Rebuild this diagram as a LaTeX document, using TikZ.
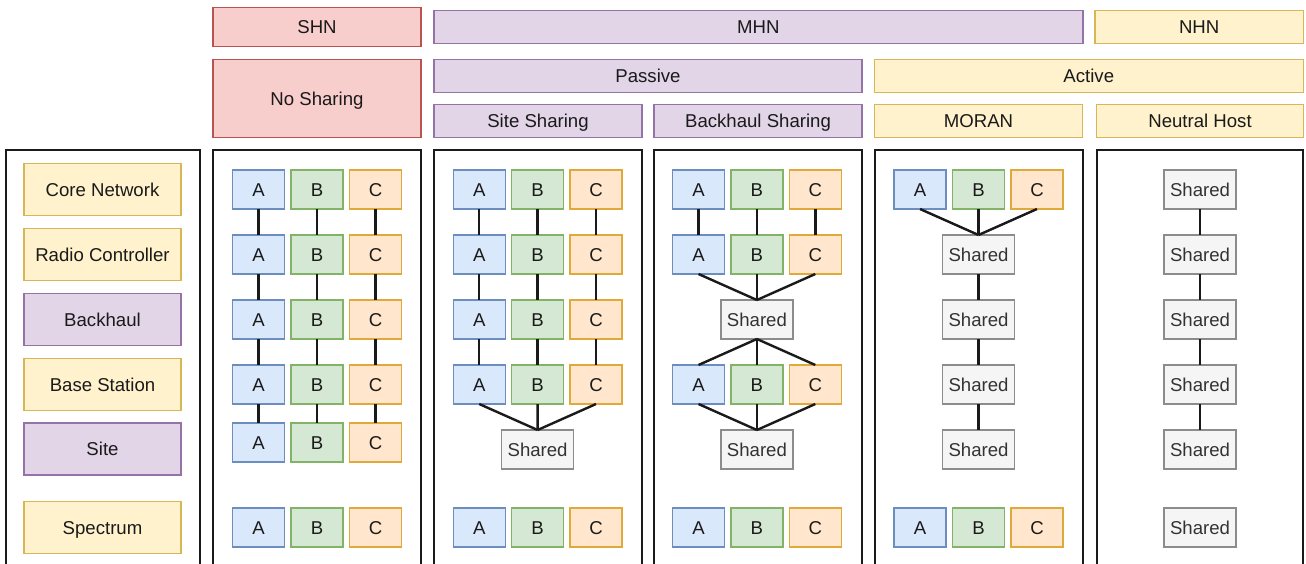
\documentclass[tikz,border=0pt]{standalone}
\usepackage{fontspec}
\setmainfont{Liberation Sans}
\definecolor{blueF}{HTML}{DAE8FC}\definecolor{blueD}{HTML}{6C8EBF}
\definecolor{greenF}{HTML}{D5E8D4}\definecolor{greenD}{HTML}{82B366}
\definecolor{orF}{HTML}{FFE6CC}\definecolor{orD}{HTML}{E0AA3A}
\definecolor{yelF}{HTML}{FFF2CC}\definecolor{yelD}{HTML}{D6B656}
\definecolor{purF}{HTML}{E1D5E7}\definecolor{purD}{HTML}{9673A6}
\definecolor{redF}{HTML}{F8CECC}\definecolor{redD}{HTML}{B85450}
\definecolor{grayF}{HTML}{F5F5F5}\definecolor{grayD}{HTML}{8C8C8C}
\definecolor{grayT}{HTML}{333333}\definecolor{txt}{HTML}{1A1A1A}
\begin{document}
\begin{tikzpicture}[x=1pt,y=-1pt,
  every node/.style={font=\fontsize{18.6}{20}\selectfont, inner sep=0pt, outer sep=0pt,
    text height=15.6pt, text depth=2pt},
  bx/.style={draw, line width=1.4pt, rectangle, text=txt},
  redbox/.style={bx, fill=redF, draw=redD},
  purbox/.style={bx, fill=purF, draw=purD},
  yelbox/.style={bx, fill=yelF, draw=yelD},
  lg/.style={minimum width=157, minimum height=52},
  abox/.style={bx, fill=blueF, draw=blueD, minimum width=52, minimum height=39},
  bbox/.style={bx, fill=greenF, draw=greenD, minimum width=52, minimum height=39},
  cbox/.style={bx, fill=orF, draw=orD, minimum width=52, minimum height=39},
  shbox/.style={bx, fill=grayF, draw=grayD, text=grayT, minimum width=72, minimum height=39},
  link/.style={draw=txt, line width=2.4pt},
  frame/.style={draw=txt, line width=1.3pt}]
\fill[white] (0,0) rectangle (1306,564);
\useasboundingbox (0,0) rectangle (1306,564);

\newcommand\abcrow[4]{% prefix, xA, step, y
  \node[abox] (#1a) at (#2,#4) {A};
  \node[bbox] (#1b) at (#2+#3,#4) {B};
  \node[cbox] (#1c) at (#2+2*#3,#4) {C};}
\newcommand\vlinks[2]{%
  \draw[link] (#1a.south) -- (#2a.north);
  \draw[link] (#1b.south) -- (#2b.north);
  \draw[link] (#1c.south) -- (#2c.north);}
\newcommand\merge[2]{%
  \draw[link] (#1a.south) -- (#2.north);
  \draw[link] (#1b.south) -- (#2.north);
  \draw[link] (#1c.south) -- (#2.north);}
\newcommand\split[2]{%
  \draw[link] (#1.south) -- (#2a.north);
  \draw[link] (#1.south) -- (#2b.north);
  \draw[link] (#1.south) -- (#2c.north);}

% headers
\node[redbox, minimum width=208, minimum height=39] (shn) at (317,27) {SHN};
\node[purbox, minimum width=649, minimum height=33] (mhn) at (758.3,27) {MHN};
\node[yelbox, minimum width=208.5, minimum height=33] (nhn) at (1199.2,27) {NHN};
\node[redbox, minimum width=208, minimum height=78] (nosh) at (317,98.5) {No Sharing};
\node[purbox, minimum width=428, minimum height=33] (pass) at (648,76) {Passive};
\node[yelbox, minimum width=429, minimum height=33] (act) at (1088.8,76) {Active};
\node[purbox, minimum width=208, minimum height=33] (sites) at (538,121.2) {Site Sharing};
\node[purbox, minimum width=208, minimum height=33] (bhs) at (758,121.2) {Backhaul Sharing};
\node[yelbox, minimum width=208, minimum height=33] (moran) at (978.5,121.2) {MORAN};
\node[yelbox, minimum width=207, minimum height=33] (nh) at (1200,121.2) {Neutral Host};

% panel frames (open at the bottom)
\foreach \l/\r in {6/200, 213/421, 434/642, 654/862, 875/1083, 1097/1303}
  \draw[frame] (\l,566) -- (\l,150) -- (\r,150) -- (\r,566);

% legend
\node[yelbox, lg] (core) at (102.5,189.5) {Core Network};
\node[yelbox, lg] (radio) at (102.5,254.5) {Radio Controller};
\node[purbox, lg] (bh) at (102.5,319.5) {Backhaul};
\node[yelbox, lg] (bs) at (102.5,384.5) {Base Station};
\node[purbox, lg] (site) at (102.5,449) {Site};
\node[yelbox, lg] (spec) at (102.5,527.5) {Spectrum};

% panel 1: no sharing
\abcrow{pa1}{258.5}{58.5}{189.5}
\abcrow{pa2}{258.5}{58.5}{254.5}
\abcrow{pa3}{258.5}{58.5}{319.5}
\abcrow{pa4}{258.5}{58.5}{384.5}
\abcrow{pa5}{258.5}{58.5}{442.5}
\abcrow{pas}{258.5}{58.5}{527.5}
\vlinks{pa1}{pa2}\vlinks{pa2}{pa3}\vlinks{pa3}{pa4}\vlinks{pa4}{pa5}

% panel 2: site sharing
\abcrow{pb1}{479.2}{58.4}{189.5}
\abcrow{pb2}{479.2}{58.4}{254.5}
\abcrow{pb3}{479.2}{58.4}{319.5}
\abcrow{pb4}{479.2}{58.4}{384.5}
\node[shbox] (pb5) at (537.6,449.5) {Shared};
\abcrow{pbs}{479.2}{58.4}{527.5}
\vlinks{pb1}{pb2}\vlinks{pb2}{pb3}\vlinks{pb3}{pb4}
\merge{pb4}{pb5}

% panel 3: backhaul sharing
\abcrow{pc1}{698.5}{58.4}{189.5}
\abcrow{pc2}{698.5}{58.4}{254.5}
\node[shbox] (pc3) at (756.9,319.5) {Shared};
\abcrow{pc4}{698.5}{58.4}{384.5}
\node[shbox] (pc5) at (756.9,449.5) {Shared};
\abcrow{pcs}{698.5}{58.4}{527.5}
\vlinks{pc1}{pc2}
\merge{pc2}{pc3}
\split{pc3}{pc4}
\merge{pc4}{pc5}

% panel 4: MORAN
\abcrow{pd1}{920}{58.5}{189.5}
\node[shbox] (pd2) at (978.5,254.5) {Shared};
\node[shbox] (pd3) at (978.5,319.5) {Shared};
\node[shbox] (pd4) at (978.5,384.5) {Shared};
\node[shbox] (pd5) at (978.5,449.5) {Shared};
\abcrow{pds}{920}{58.5}{527.5}
\merge{pd1}{pd2}
\draw[link] (pd2.south) -- (pd3.north);
\draw[link] (pd3.south) -- (pd4.north);
\draw[link] (pd4.south) -- (pd5.north);

% panel 5: neutral host
\node[shbox] (pe1) at (1200,189.5) {Shared};
\node[shbox] (pe2) at (1200,254.5) {Shared};
\node[shbox] (pe3) at (1200,319.5) {Shared};
\node[shbox] (pe4) at (1200,384.5) {Shared};
\node[shbox] (pe5) at (1200,449.5) {Shared};
\node[shbox] (pes) at (1200,527.5) {Shared};
\draw[link] (pe1.south) -- (pe2.north);
\draw[link] (pe2.south) -- (pe3.north);
\draw[link] (pe3.south) -- (pe4.north);
\draw[link] (pe4.south) -- (pe5.north);
\end{tikzpicture}
\end{document}
